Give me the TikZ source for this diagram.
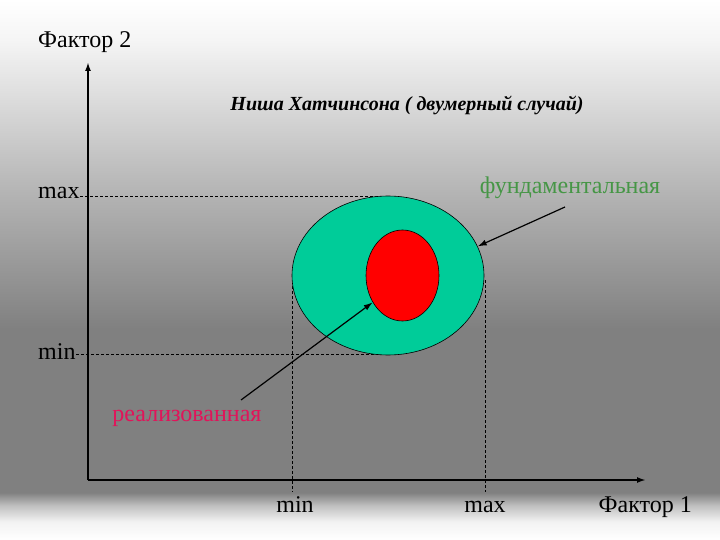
\documentclass[tikz,border=0pt]{standalone}
\usepackage{fontspec}
\setmainfont{Liberation Serif}
\usetikzlibrary{arrows.meta,shapes.geometric}
\definecolor{teal1}{RGB}{0,204,153}
\definecolor{fundcol}{RGB}{70,150,70}
\definecolor{realcol}{RGB}{225,20,90}
\pgfdeclareverticalshading{bgshade}{100bp}{%
color(0bp)=(white); color(25bp)=(white); color(26.7bp)=(white!95!black); color(28.2bp)=(white!75!black);
color(29.4bp)=(white!50!black); color(44.4bp)=(white!50!black);
color(57.4bp)=(white!71!black); color(65.7bp)=(white!86!black);
color(71.3bp)=(white!96!black); color(75bp)=(white); color(100bp)=(white)}
\tikzset{
  axis/.style={line width=1.8pt,-{Latex[length=9pt,width=6pt]}},
  guide/.style={line width=0.5pt,dash pattern=on 3pt off 2pt},
  pointer/.style={line width=1.2pt,-{Latex[length=9pt,width=6pt]}},
  lbl/.style={font=\fontsize{24}{26}\selectfont,inner sep=0pt}
}
\begin{document}
\begin{tikzpicture}[x=1pt,y=-1pt]
\useasboundingbox (0,0) rectangle (720,540);
\shade[shading=bgshade] (0,0) rectangle (720,540);
% points
\coordinate (o) at (88,480);
\coordinate (ytop) at (88,62);
\coordinate (xend) at (646,480);
% guides
\coordinate (g1a) at (80,196); \coordinate (g1b) at (385,196);
\coordinate (g2a) at (76,354); \coordinate (g2b) at (385,354);
\coordinate (g3a) at (292,286); \coordinate (g3b) at (292,492);
\coordinate (g4a) at (485,280); \coordinate (g4b) at (485,492);
\draw[guide] (g1a) -- (g1b);
\draw[guide] (g2a) -- (g2b);
\draw[guide] (g3a) -- (g3b);
\draw[guide] (g4a) -- (g4b);
% ellipses
\node (fund) [draw=black,line width=0.6pt,fill=teal1,shape=ellipse,minimum width=192pt,minimum height=159pt,inner sep=0pt] at (388,275.5) {};
\node (real) [draw=black,line width=0.6pt,fill=red,shape=ellipse,minimum width=73pt,minimum height=91pt,inner sep=0pt] at (402.5,275.5) {};
% axes
\draw[axis] (o) -- (ytop);
\draw[axis] (o) -- (xend);
% labels
\node[lbl,anchor=base west] (f2) at (38,48) {Фактор 2};
\node[lbl,anchor=base east] (f1) at (692,512) {Фактор 1};
\node[lbl,anchor=base] (xmin) at (295,512) {min};
\node[lbl,anchor=base] (xmax) at (485,512) {max};
\node[lbl,anchor=base west] (ymax) at (38,199) {max};
\node[lbl,anchor=base west] (ymin) at (38,359) {min};
\node[font=\fontsize{20}{22}\selectfont\bfseries\itshape,inner sep=0pt] (title) at (407,105) {Ниша Хатчинсона ( двумерный случай)};
\node[lbl,text=fundcol] (lfund) at (570,188) {фундаментальная};
\node[lbl,text=realcol] (lreal) at (187,418) {реализованная};
\coordinate (pf) at (565,207);
\coordinate (pr) at (241,400);
\draw[pointer] (pf) -- (fund.18);
\draw[pointer] (pr) -- (real.222);
\end{tikzpicture}
\end{document}
